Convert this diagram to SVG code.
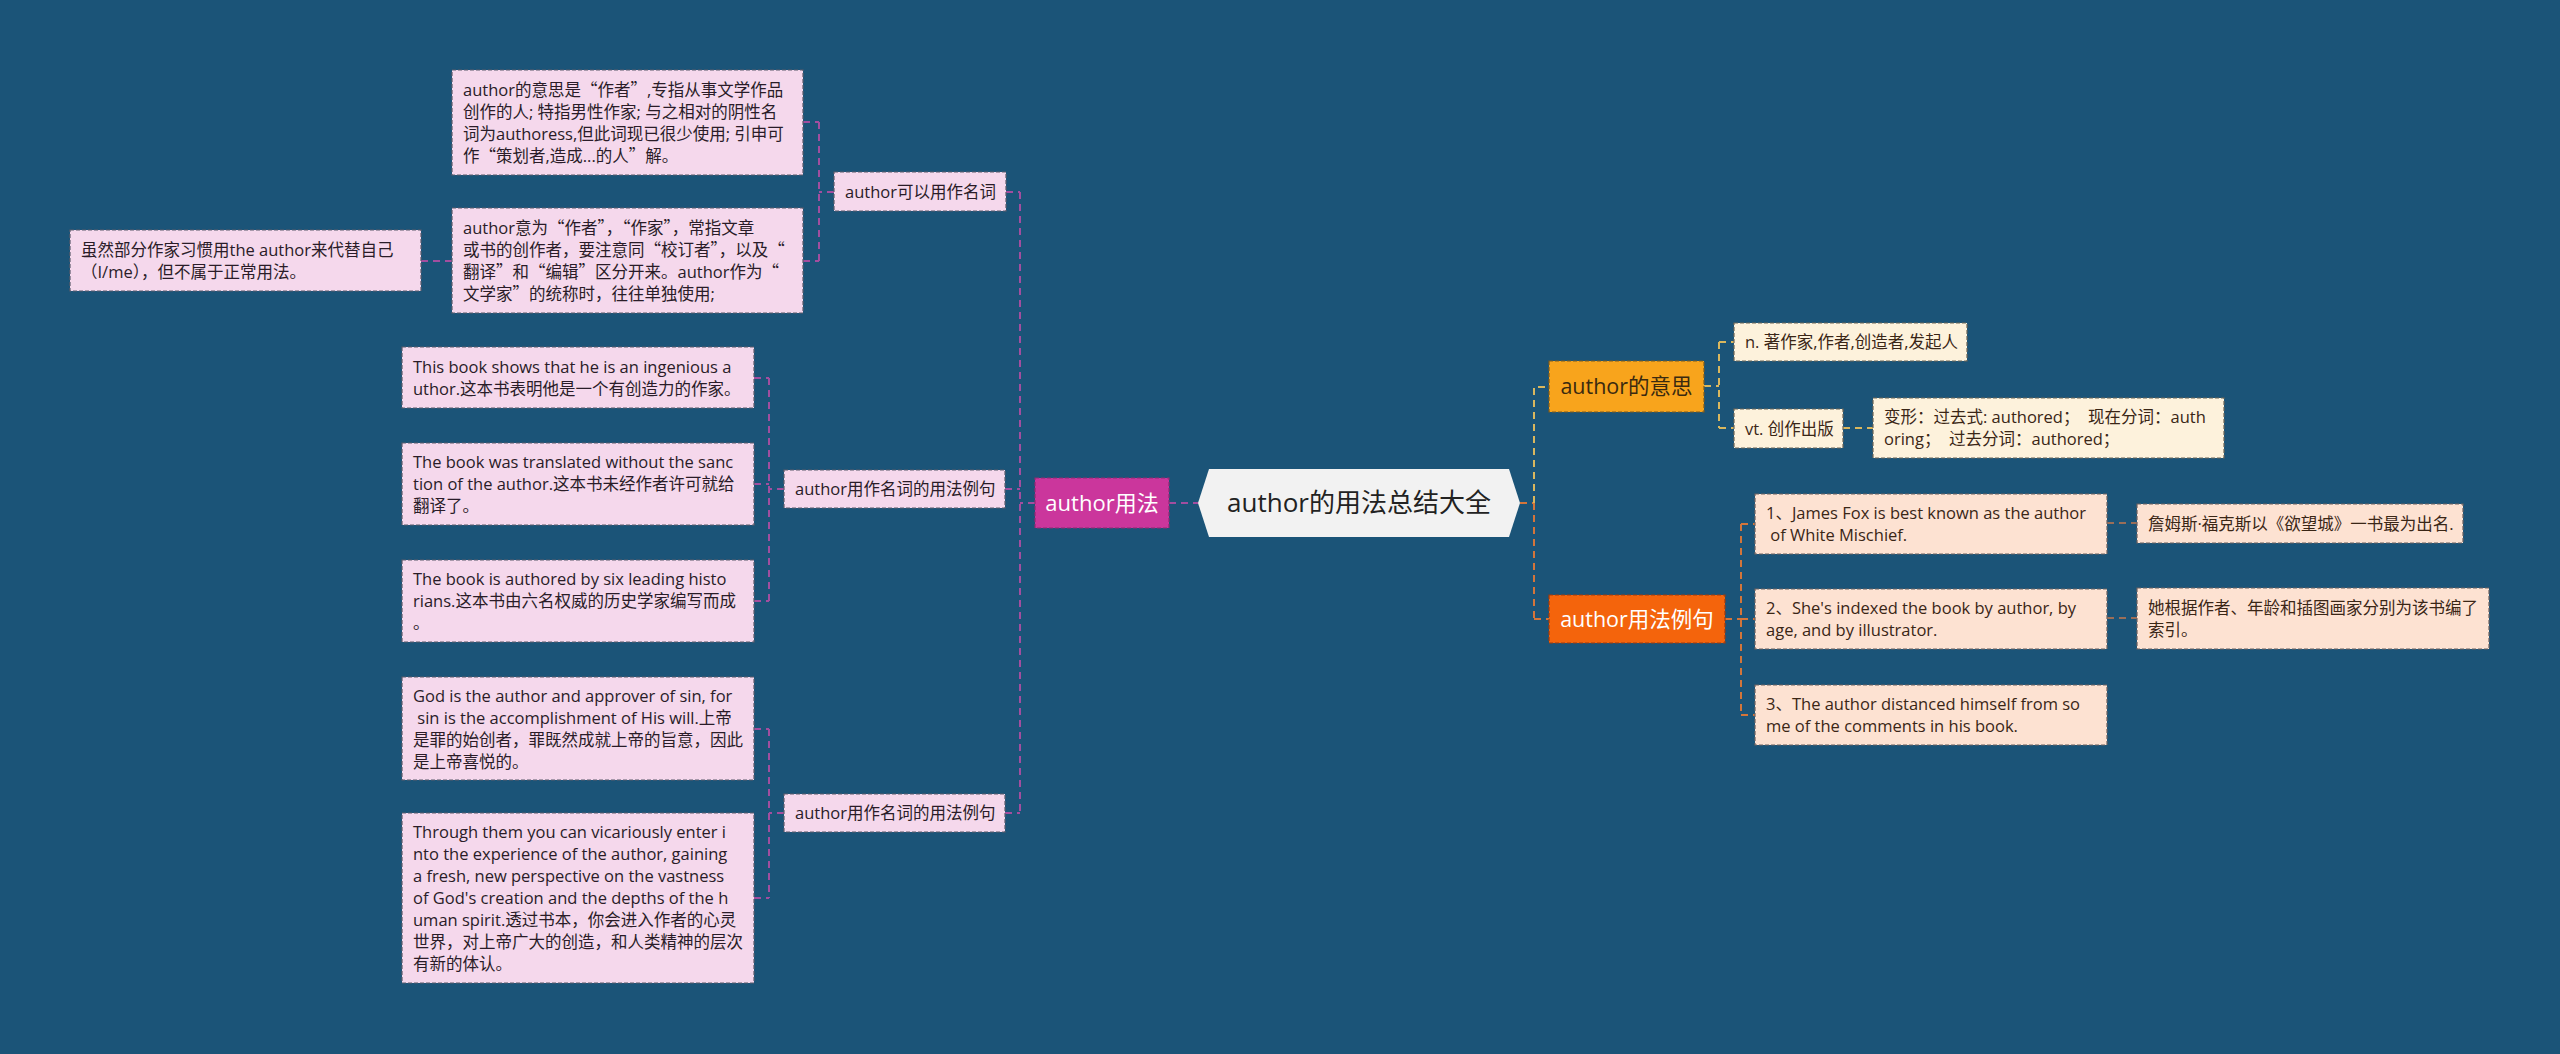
<svg xmlns="http://www.w3.org/2000/svg" width="2560" height="1054" viewBox="0 0 2560 1054">
<style>
text{font-family:"Open Sans","Noto Sans CJK SC",sans-serif;white-space:pre}
.q{font-family:"Noto Sans CJK SC",sans-serif}
.t{font-size:16.5px;fill:#2a1c28}
.tr{font-size:16.5px;fill:#3a2616}
.pk{fill:#f5d8ec;stroke:#5b5b6b;stroke-width:1.2;stroke-dasharray:4 2}
.cr{fill:#fdf2dc;stroke:#6b6456;stroke-width:1.2;stroke-dasharray:4 2}
.pc{fill:#fde2d2;stroke:#6b6060;stroke-width:1.2;stroke-dasharray:4 2}
.cm{stroke:#a24e9f;stroke-width:2;stroke-dasharray:7 5;fill:none}
.cy{stroke:#d9b75e;stroke-width:2;stroke-dasharray:7 5;fill:none}
.co{stroke:#d4753a;stroke-width:2;stroke-dasharray:7 5;fill:none}
.cb{stroke:#9a6e58;stroke-width:2;stroke-dasharray:7 5;fill:none}
</style>
<rect width="2560" height="1054" fill="#1b5478"/>
<g id="connectors">
<path class="cm" d="M1169 503H1198M1035 503H1020M1020 192V813M1006 192H1020M1005 489H1020M1005 813H1020"/>
<path class="cm" d="M834 192H819M819 122V261M803 122H819M803 261H819M421 261H452"/>
<path class="cm" d="M784 489H769M769 378V601M754 378H769M754 484H769M754 601H769"/>
<path class="cm" d="M784 813H769M769 729V898M754 729H769M754 898H769"/>
<path class="co" d="M1520 503H1534M1534 503V619M1534 619H1549"/>
<path class="cy" d="M1534 503V387H1549"/>
<path class="cy" d="M1704 386H1719M1719 342V428M1719 342H1734M1719 428H1734M1843 428H1873"/>
<path class="co" d="M1725 619H1741M1741 524V715M1741 524H1755M1741 619H1755M1741 715H1755"/>
<path class="cb" d="M2107 523H2137M2107 618H2137"/>
</g>
<g id="root">
<polygon points="1198,503 1209,469 1509,469 1520,503 1509,537 1209,537" fill="#f2f2f2"/>
<text x="1359" y="512" font-size="26" fill="#222" text-anchor="middle">author的用法总结大全</text>
</g>
<g id="n-usage">
<rect x="1035" y="478" width="134" height="50" fill="#cb369c" stroke="#8e2a72" stroke-width="1.2" stroke-dasharray="4 2"/>
<text x="1102" y="511" font-size="22" fill="#fff" text-anchor="middle">author用法</text>
</g>
<g id="n-noun">
<rect class="pk" x="834" y="172" width="172" height="39"/>
<text class="t" x="845" y="198">author可以用作名词</text>
</g>
<g id="n-ex1">
<rect class="pk" x="784" y="470" width="221" height="38"/>
<text class="t" x="795" y="495">author用作名词的用法例句</text>
</g>
<g id="n-ex2">
<rect class="pk" x="784" y="794" width="221" height="38"/>
<text class="t" x="795" y="819">author用作名词的用法例句</text>
</g>
<g id="n-a">
<rect class="pk" x="452" y="70" width="351" height="105"/>
<text class="t" x="463" y="95.5">author的意思是<tspan class="q">“</tspan>作者<tspan class="q">”</tspan>,专指从事文学作品</text>
<text class="t" x="463" y="117.5">创作的人; 特指男性作家; 与之相对的阴性名</text>
<text class="t" x="463" y="139.5">词为authoress,但此词现已很少使用; 引申可</text>
<text class="t" x="463" y="161.5">作<tspan class="q">“</tspan>策划者,造成...的人<tspan class="q">”</tspan>解。</text>
</g>
<g id="n-b">
<rect class="pk" x="452" y="208" width="351" height="105"/>
<text class="t" x="463" y="233.5">author意为<tspan class="q">“</tspan>作者<tspan class="q">”</tspan>，<tspan class="q">“</tspan>作家<tspan class="q">”</tspan>，常指文章</text>
<text class="t" x="463" y="255.5">或书的创作者，要注意同<tspan class="q">“</tspan>校订者<tspan class="q">”</tspan>，以及<tspan class="q">“</tspan></text>
<text class="t" x="463" y="277.5">翻译<tspan class="q">”</tspan>和<tspan class="q">“</tspan>编辑<tspan class="q">”</tspan>区分开来。author作为<tspan class="q">“</tspan></text>
<text class="t" x="463" y="299.5">文学家<tspan class="q">”</tspan>的统称时，往往单独使用;</text>
</g>
<g id="n-c">
<rect class="pk" x="70" y="230" width="351" height="61"/>
<text class="t" x="81" y="255.5">虽然部分作家习惯用the author来代替自己</text>
<text class="t" x="81" y="277.5">（I/me），但不属于正常用法。</text>
</g>
<g id="n-b1">
<rect class="pk" x="402" y="347" width="352" height="61"/>
<text class="t" x="413" y="372.5">This book shows that he is an ingenious a</text>
<text class="t" x="413" y="394.5">uthor.这本书表明他是一个有创造力的作家。</text>
</g>
<g id="n-b2">
<rect class="pk" x="402" y="443" width="352" height="82"/>
<text class="t" x="413" y="468">The book was translated without the sanc</text>
<text class="t" x="413" y="490">tion of the author.这本书未经作者许可就给</text>
<text class="t" x="413" y="512">翻译了。</text>
</g>
<g id="n-b3">
<rect class="pk" x="402" y="560" width="352" height="82"/>
<text class="t" x="413" y="585">The book is authored by six leading histo</text>
<text class="t" x="413" y="607">rians.这本书由六名权威的历史学家编写而成</text>
<text class="t" x="413" y="629">。</text>
</g>
<g id="n-c1">
<rect class="pk" x="402" y="677" width="352" height="103"/>
<text class="t" x="413" y="701.5">God is the author and approver of sin, for</text>
<text class="t" x="413" y="723.5"> sin is the accomplishment of His will.上帝</text>
<text class="t" x="413" y="745.5">是罪的始创者，罪既然成就上帝的旨意，因此</text>
<text class="t" x="413" y="767.5">是上帝喜悦的。</text>
</g>
<g id="n-c2">
<rect class="pk" x="402" y="813" width="352" height="170"/>
<text class="t" x="413" y="838">Through them you can vicariously enter i</text>
<text class="t" x="413" y="860">nto the experience of the author, gaining</text>
<text class="t" x="413" y="882">a fresh, new perspective on the vastness</text>
<text class="t" x="413" y="904">of God's creation and the depths of the h</text>
<text class="t" x="413" y="926">uman spirit.透过书本，你会进入作者的心灵</text>
<text class="t" x="413" y="948">世界，对上帝广大的创造，和人类精神的层次</text>
<text class="t" x="413" y="970">有新的体认。</text>
</g>
<g id="n-meaning">
<rect x="1549" y="361" width="155" height="51" fill="#f8a41c" stroke="#7a5a20" stroke-width="1.2" stroke-dasharray="4 2"/>
<text x="1626.5" y="394" font-size="21.5" fill="#3a2a10" text-anchor="middle">author的意思</text>
</g>
<g id="n-n">
<rect class="cr" x="1734" y="323" width="233" height="38"/>
<text class="tr" x="1745" y="348">n. 著作家,作者,创造者,发起人</text>
</g>
<g id="n-vt">
<rect class="cr" x="1734" y="409" width="109" height="39"/>
<text class="tr" x="1745" y="434.5">vt. 创作出版</text>
</g>
<g id="n-forms">
<rect class="cr" x="1873" y="398" width="351" height="60"/>
<text class="tr" x="1884" y="423">变形：过去式: authored；  现在分词：auth</text>
<text class="tr" x="1884" y="445">oring；  过去分词：authored；</text>
</g>
<g id="n-examples">
<rect x="1549" y="595" width="176" height="48" fill="#f4640c" stroke="#9a3a10" stroke-width="1.2" stroke-dasharray="4 2"/>
<text x="1637" y="627" font-size="21.5" fill="#fff" text-anchor="middle">author用法例句</text>
</g>
<g id="n-r1">
<rect class="pc" x="1755" y="494" width="352" height="60"/>
<text class="tr" x="1766" y="519">1、James Fox is best known as the author</text>
<text class="tr" x="1766" y="541"> of White Mischief.</text>
</g>
<g id="n-r2">
<rect class="pc" x="1755" y="589" width="352" height="60"/>
<text class="tr" x="1766" y="614">2、She's indexed the book by author, by</text>
<text class="tr" x="1766" y="636">age, and by illustrator.</text>
</g>
<g id="n-r3">
<rect class="pc" x="1755" y="685" width="352" height="60"/>
<text class="tr" x="1766" y="710">3、The author distanced himself from so</text>
<text class="tr" x="1766" y="732">me of the comments in his book.</text>
</g>
<g id="n-t1">
<rect class="pc" x="2137" y="504" width="326" height="39"/>
<text class="tr" x="2148" y="529.5">詹姆斯·福克斯以《欲望城》一书最为出名.</text>
</g>
<g id="n-t2">
<rect class="pc" x="2137" y="588" width="352" height="61"/>
<text class="tr" x="2148" y="613.5">她根据作者、年龄和插图画家分别为该书编了</text>
<text class="tr" x="2148" y="635.5">索引。</text>
</g>
</svg>
